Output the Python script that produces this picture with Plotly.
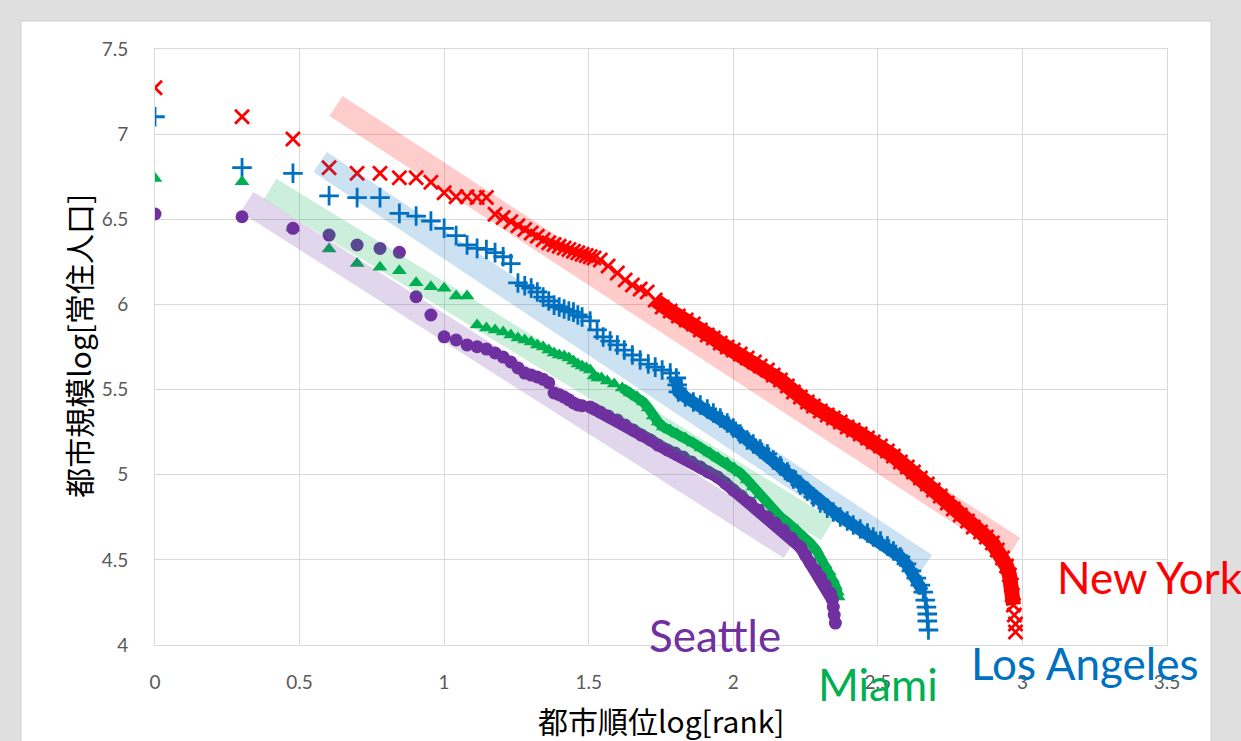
import numpy as np
import plotly.graph_objects as go

# ---------------- data ----------------
# New York
ny_rank = list(range(1, 34))
ny_head = [7.273, 7.102, 6.971, 6.803, 6.770, 6.770, 6.744, 6.744, 6.717, 6.656,
           6.632, 6.632, 6.628, 6.628, 6.530, 6.510, 6.485, 6.462, 6.440, 6.420,
           6.400, 6.380, 6.362, 6.352, 6.342, 6.332, 6.322, 6.312, 6.303, 6.295,
           6.288, 6.280, 6.272]
ny_tail_x = [1.540, 1.567, 1.599, 1.626, 1.651, 1.678, 1.702, 1.730, 1.754, 1.782,
             1.810, 1.837, 1.862, 1.886, 1.910, 1.931, 1.955, 1.979, 2.000, 2.024,
             2.048, 2.073, 2.093, 2.118, 2.138, 2.163, 2.187, 2.208, 2.232, 2.256,
             2.277, 2.301, 2.325, 2.346, 2.370, 2.394, 2.415, 2.439, 2.464, 2.484,
             2.509, 2.533, 2.554, 2.578, 2.602, 2.623, 2.647, 2.671, 2.692, 2.716,
             2.740, 2.761, 2.785, 2.810, 2.830, 2.855, 2.875, 2.896, 2.913, 2.931,
             2.945, 2.955, 2.962, 2.965, 2.969, 2.972, 2.976, 2.976]
ny_tail_y = [6.261, 6.226, 6.184, 6.143, 6.114, 6.090, 6.073, 6.026, 5.985, 5.961,
             5.932, 5.908, 5.885, 5.850, 5.820, 5.803, 5.773, 5.750, 5.732, 5.709,
             5.685, 5.662, 5.638, 5.615, 5.585, 5.556, 5.521, 5.486, 5.456, 5.427,
             5.403, 5.374, 5.351, 5.333, 5.309, 5.280, 5.262, 5.239, 5.216, 5.192,
             5.169, 5.139, 5.110, 5.075, 5.045, 5.016, 4.981, 4.945, 4.910, 4.875,
             4.834, 4.799, 4.763, 4.728, 4.693, 4.664, 4.634, 4.599, 4.558, 4.511,
             4.464, 4.411, 4.352, 4.294, 4.235, 4.176, 4.123, 4.076]

# Los Angeles
la_rank = list(range(1, 31))
la_head = [7.102, 6.803, 6.770, 6.638, 6.627, 6.627, 6.535, 6.519, 6.490, 6.447,
           6.404, 6.349, 6.329, 6.323, 6.304, 6.280, 6.240, 6.126, 6.110, 6.096,
           6.073, 6.043, 6.020, 5.996, 5.985, 5.973, 5.961, 5.955, 5.938, 5.926]
la_tail_x = [1.505, 1.529, 1.550, 1.574, 1.599, 1.623, 1.651, 1.678, 1.706, 1.730,
             1.754, 1.782, 1.803, 1.806, 1.810, 1.834, 1.862, 1.886, 1.910, 1.931,
             1.955, 1.979, 2.000, 2.024, 2.048, 2.069, 2.093, 2.118, 2.138, 2.163,
             2.187, 2.208, 2.232, 2.256, 2.277, 2.301, 2.325, 2.346, 2.370, 2.394,
             2.415, 2.439, 2.464, 2.484, 2.509, 2.533, 2.554, 2.578, 2.599, 2.616,
             2.633, 2.647, 2.657, 2.664, 2.668, 2.671, 2.671, 2.675]
la_tail_y = [5.903, 5.850, 5.809, 5.785, 5.762, 5.732, 5.703, 5.674, 5.650, 5.632,
             5.615, 5.597, 5.568, 5.527, 5.486, 5.456, 5.427, 5.409, 5.386, 5.362,
             5.333, 5.304, 5.274, 5.239, 5.204, 5.180, 5.151, 5.122, 5.086, 5.051,
             5.016, 4.975, 4.940, 4.904, 4.869, 4.834, 4.804, 4.781, 4.752, 4.728,
             4.705, 4.681, 4.658, 4.634, 4.611, 4.581, 4.552, 4.517, 4.476, 4.435,
             4.393, 4.352, 4.311, 4.264, 4.223, 4.182, 4.141, 4.088]

# Miami
mi_rank = list(range(1, 36))
mi_head = [6.740, 6.721, 6.449, 6.325, 6.241, 6.218, 6.198, 6.127, 6.104, 6.095,
           6.049, 6.049, 5.879, 5.861, 5.850, 5.838, 5.820, 5.803, 5.791, 5.779,
           5.762, 5.750, 5.732, 5.715, 5.703, 5.697, 5.685, 5.668, 5.650, 5.638,
           5.627, 5.615, 5.580, 5.568, 5.568]
mi_tail_x = [1.564, 1.588, 1.616, 1.644, 1.668, 1.689, 1.706, 1.723, 1.740, 1.758,
             1.782, 1.806, 1.834, 1.862, 1.889, 1.920, 1.948, 1.979, 2.003, 2.024,
             2.048, 2.069, 2.093, 2.118, 2.138, 2.163, 2.190, 2.221, 2.246, 2.266,
             2.287, 2.301, 2.318, 2.332, 2.343, 2.353, 2.360, 2.363]
mi_tail_y = [5.550, 5.533, 5.509, 5.480, 5.456, 5.427, 5.392, 5.345, 5.309, 5.280,
             5.262, 5.239, 5.216, 5.186, 5.157, 5.127, 5.098, 5.069, 5.039, 5.010,
             4.969, 4.928, 4.881, 4.834, 4.793, 4.752, 4.716, 4.675, 4.634, 4.599,
             4.558, 4.517, 4.470, 4.429, 4.388, 4.346, 4.311, 4.282]

# Seattle
se_rank = list(range(1, 31))
se_head = [6.531, 6.515, 6.447, 6.407, 6.349, 6.329, 6.306, 6.045, 5.938, 5.810,
           5.791, 5.762, 5.752, 5.738, 5.715, 5.691, 5.662, 5.627, 5.597, 5.585,
           5.574, 5.560, 5.540, 5.480, 5.470, 5.456, 5.440, 5.421, 5.410, 5.405]
se_tail_x = [1.505, 1.519, 1.540, 1.567, 1.599, 1.626, 1.654, 1.682, 1.713, 1.740,
             1.772, 1.799, 1.827, 1.855, 1.886, 1.913, 1.945, 1.972, 2.000, 2.028,
             2.059, 2.087, 2.118, 2.145, 2.173, 2.201, 2.232, 2.249, 2.266, 2.284,
             2.301, 2.318, 2.336, 2.343, 2.346, 2.349, 2.353]
se_tail_y = [5.398, 5.386, 5.368, 5.345, 5.321, 5.292, 5.262, 5.233, 5.204, 5.174,
             5.145, 5.127, 5.104, 5.075, 5.045, 5.016, 4.987, 4.951, 4.910, 4.875,
             4.834, 4.793, 4.752, 4.716, 4.675, 4.628, 4.575, 4.528, 4.482, 4.440,
             4.399, 4.352, 4.305, 4.264, 4.223, 4.176, 4.129]

# Fitted (trend) bands: start / end points
ny_fit_x, ny_fit_y = [0.626, 2.969], [7.165, 4.570]
la_fit_x, la_fit_y = [0.571, 2.664], [6.836, 4.470]
mi_fit_x, mi_fit_y = [0.398, 2.325], [6.678, 4.675]
se_fit_x, se_fit_y = [0.318, 2.197], [6.601, 4.570]

names = ["New York", "Los Angeles", "Miami", "Seattle"]
colors = ["#ff0000", "#0070c0", "#00b050", "#7030a0"]
band_colors = ["rgba(255,0,0,0.2)", "rgba(0,112,192,0.2)",
               "rgba(0,176,80,0.2)", "rgba(112,48,160,0.2)"]

# ---------------- figure ----------------
fig = go.Figure()

# where the dense markers merge into a solid band (x from, y down to) and its thickness
merge = [(1.73, 4.18, 15), (1.80, 4.30, 12), (1.60, 4.28, 10), (1.50, 4.24, 12)]

series = [
    (ny_rank, ny_head, ny_tail_x, ny_tail_y, dict(symbol="x-thin", size=14, line=dict(width=2.8, color=colors[0]))),
    (la_rank, la_head, la_tail_x, la_tail_y, dict(symbol="cross-thin", size=14, line=dict(width=2.8, color=colors[1]))),
    (mi_rank, mi_head, mi_tail_x, mi_tail_y, dict(symbol="triangle-up", size=13, color=colors[2], line=dict(width=0))),
    (se_rank, se_head, se_tail_x, se_tail_y, dict(symbol="circle", size=13, color=colors[3], line=dict(width=0))),
]
for (rk, hy, tx, ty, mk), nm, col, (mx, my, mw) in zip(series, names, colors, merge):
    bx = [a for a, b in zip(tx, ty) if a >= mx and b >= my]
    by = [b for a, b in zip(tx, ty) if a >= mx and b >= my]
    fig.add_trace(go.Scatter(x=bx, y=by, mode="lines",
                             line=dict(color=col, width=mw, shape="linear"),
                             showlegend=False, hoverinfo="skip"))
    xs = list(np.log10(rk)) + tx
    ys = hy + ty
    mk = dict(mk)
    mk.setdefault("color", col)
    fig.add_trace(go.Scatter(x=xs, y=ys, mode="markers", marker=mk, name=nm,
                             showlegend=False, hoverinfo="skip"))

fits = [(ny_fit_x, ny_fit_y), (la_fit_x, la_fit_y), (mi_fit_x, mi_fit_y), (se_fit_x, se_fit_y)]
for (fx, fy), bc in zip(fits, band_colors):
    fig.add_trace(go.Scatter(x=fx, y=fy, mode="lines", line=dict(color=bc, width=24),
                             showlegend=False, hoverinfo="skip"))

tick_font = dict(family="Lato, Carlito, sans-serif", size=19, color="#595959")
grid = "#d9d9d9"

fig.update_xaxes(range=[0, 3.5], dtick=0.5, tick0=0, showgrid=True, gridcolor=grid, gridwidth=1,
                 zeroline=False, showline=True, linecolor=grid, linewidth=1, mirror=True,
                 ticks="", tickfont=tick_font, ticklabelstandoff=20)
fig.update_yaxes(range=[4, 7.5], dtick=0.5, tick0=4, showgrid=True, gridcolor=grid, gridwidth=1,
                 zeroline=False, showline=True, linecolor=grid, linewidth=1, mirror=True,
                 ticks="", tickfont=tick_font, ticklabelstandoff=22)

label_font = "Lato, Carlito, sans-serif"
# (text, paper x, paper y, colour)
labels = [("New York", 0.983, 0.114, colors[0]),
          ("Los Angeles", 0.918, -0.030, colors[1]),
          ("Seattle", 0.5534, 0.0168, colors[3]),
          ("Miami", 0.7144, -0.066, colors[2])]
for txt, lx, ly, col in labels:
    fig.add_annotation(x=lx, y=ly, xref="paper", yref="paper", text=txt, showarrow=False,
                       font=dict(family=label_font, size=44, color=col),
                       xanchor="center", yanchor="middle")

cjk = "Noto Sans CJK JP, sans-serif"
fig.add_annotation(x=0.5, y=-0.126, xref="paper", yref="paper", text="都市順位log[rank]",
                   showarrow=False, font=dict(family=cjk, size=30, color="#000000"),
                   xanchor="center", yanchor="middle")
fig.add_annotation(x=-0.0761, y=0.502, xref="paper", yref="paper", text="都市規模log[常住人口]",
                   showarrow=False, textangle=-90, font=dict(family=cjk, size=30, color="#000000"),
                   xanchor="center", yanchor="middle")

# white chart panel on a grey page
fig.add_shape(type="rect", xref="paper", yref="paper", x0=-0.1324, x1=1.0435, y0=-0.2, y1=1.047,
              fillcolor="white", line=dict(color="#d0d0d0", width=1), layer="below")

fig.update_layout(width=1241, height=741, margin=dict(l=155, r=74, t=49, b=96),
                  paper_bgcolor="#dfdfdf", plot_bgcolor="rgba(0,0,0,0)",
                  showlegend=False)

fig.write_html("out.html", config={"displayModeBar": False},
               post_script="document.body.style.margin='0px';"
                           "document.body.style.background='#dfdfdf';"
                           "document.body.style.overflow='hidden';")
